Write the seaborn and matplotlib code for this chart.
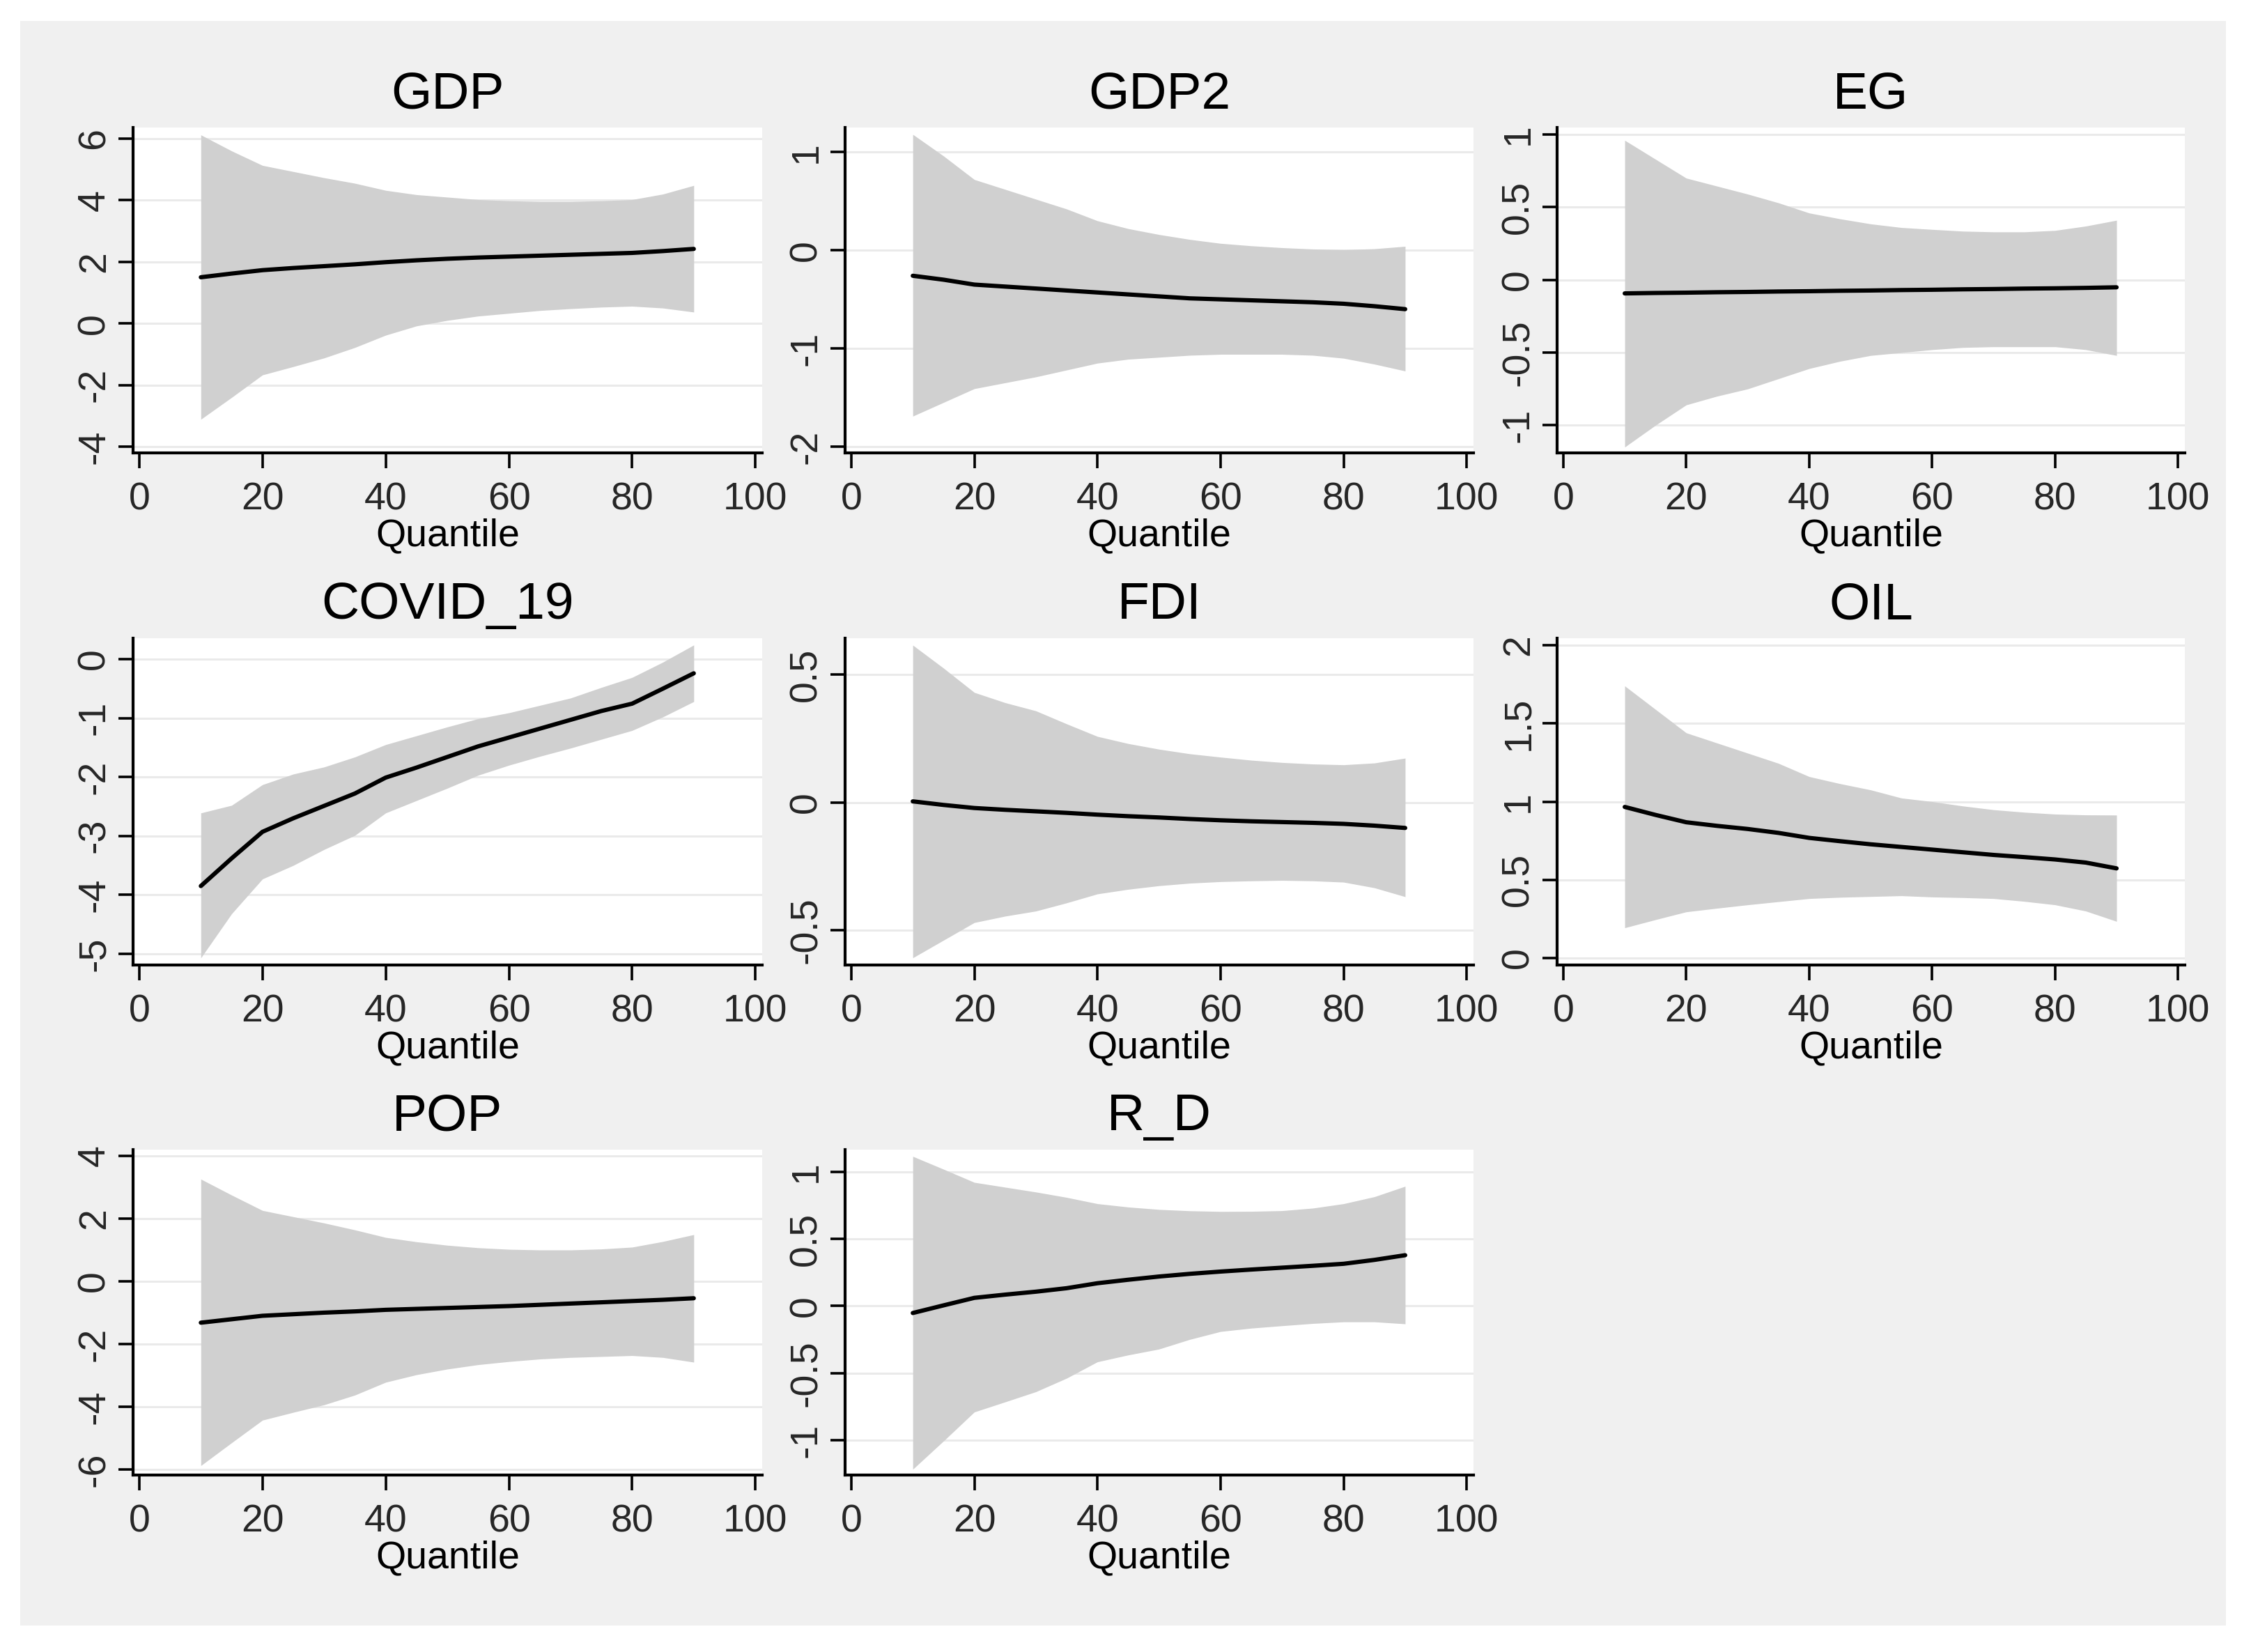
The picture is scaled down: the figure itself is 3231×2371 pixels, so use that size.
import matplotlib
matplotlib.use("Agg")
import matplotlib.pyplot as plt
import seaborn as sns
import pandas as pd
from matplotlib.ticker import FuncFormatter, FixedLocator

# quantile grid of the estimates
quantiles = [10, 15, 20, 25, 30, 35, 40, 45, 50, 55, 60, 65, 70, 75, 80, 85, 90]

gdp_coef = [1.50, 1.62, 1.73, 1.80, 1.86, 1.92, 1.99, 2.05, 2.10, 2.14, 2.17, 2.20, 2.23, 2.26, 2.29, 2.35, 2.42]
gdp_hi = [6.12, 5.60, 5.13, 4.93, 4.73, 4.55, 4.32, 4.18, 4.10, 4.02, 3.98, 3.96, 3.96, 3.98, 4.02, 4.20, 4.48]
gdp_lo = [-3.11, -2.40, -1.67, -1.40, -1.12, -0.78, -0.38, -0.08, 0.10, 0.24, 0.33, 0.42, 0.48, 0.53, 0.56, 0.50, 0.37]

gdp2_coef = [-0.26, -0.30, -0.35, -0.37, -0.39, -0.41, -0.43, -0.45, -0.47, -0.49, -0.50, -0.51, -0.52, -0.53, -0.545, -0.57, -0.60]
gdp2_hi = [1.18, 0.96, 0.72, 0.62, 0.52, 0.42, 0.30, 0.22, 0.16, 0.11, 0.07, 0.045, 0.026, 0.012, 0.005, 0.015, 0.04]
gdp2_lo = [-1.69, -1.55, -1.41, -1.35, -1.29, -1.22, -1.15, -1.11, -1.09, -1.07, -1.06, -1.06, -1.06, -1.07, -1.10, -1.16, -1.23]

eg_coef = [-0.093, -0.090, -0.088, -0.085, -0.083, -0.080, -0.078, -0.075, -0.073, -0.070, -0.068, -0.065, -0.063, -0.060, -0.058, -0.055, -0.051]
eg_hi = [0.96, 0.83, 0.70, 0.645, 0.59, 0.53, 0.46, 0.42, 0.385, 0.36, 0.347, 0.335, 0.33, 0.33, 0.34, 0.37, 0.41]
eg_lo = [-1.15, -1.00, -0.86, -0.80, -0.75, -0.68, -0.61, -0.56, -0.52, -0.50, -0.48, -0.465, -0.46, -0.46, -0.46, -0.48, -0.52]

covid_coef = [-3.85, -3.38, -2.93, -2.70, -2.49, -2.28, -2.01, -1.84, -1.66, -1.48, -1.33, -1.18, -1.03, -0.88, -0.755, -0.50, -0.24]
covid_hi = [-2.61, -2.48, -2.13, -1.95, -1.83, -1.66, -1.45, -1.30, -1.15, -1.01, -0.91, -0.785, -0.66, -0.48, -0.31, -0.05, 0.24]
covid_lo = [-5.07, -4.32, -3.73, -3.50, -3.23, -2.99, -2.61, -2.40, -2.19, -1.97, -1.80, -1.65, -1.51, -1.36, -1.21, -0.98, -0.72]

fdi_coef = [0.004, -0.010, -0.022, -0.029, -0.035, -0.041, -0.048, -0.054, -0.059, -0.065, -0.070, -0.074, -0.077, -0.080, -0.084, -0.091, -0.100]
fdi_hi = [0.615, 0.525, 0.43, 0.39, 0.358, 0.307, 0.258, 0.23, 0.208, 0.19, 0.177, 0.165, 0.156, 0.15, 0.147, 0.154, 0.173]
fdi_lo = [-0.608, -0.539, -0.47, -0.445, -0.425, -0.393, -0.358, -0.34, -0.326, -0.316, -0.31, -0.307, -0.305, -0.307, -0.312, -0.334, -0.369]

oil_coef = [0.966, 0.915, 0.868, 0.845, 0.825, 0.80, 0.768, 0.747, 0.727, 0.71, 0.693, 0.676, 0.659, 0.645, 0.63, 0.61, 0.573]
oil_hi = [1.74, 1.59, 1.44, 1.375, 1.31, 1.245, 1.16, 1.115, 1.075, 1.023, 1.0, 0.972, 0.948, 0.932, 0.92, 0.915, 0.914]
oil_lo = [0.193, 0.245, 0.295, 0.318, 0.34, 0.36, 0.38, 0.388, 0.393, 0.398, 0.39, 0.386, 0.38, 0.362, 0.34, 0.30, 0.234]

pop_coef = [-1.32, -1.21, -1.10, -1.05, -1.00, -0.96, -0.91, -0.88, -0.85, -0.82, -0.79, -0.75, -0.71, -0.67, -0.63, -0.59, -0.54]
pop_hi = [3.26, 2.75, 2.26, 2.06, 1.86, 1.64, 1.40, 1.26, 1.15, 1.07, 1.02, 1.00, 1.00, 1.03, 1.09, 1.27, 1.49]
pop_lo = [-5.88, -5.15, -4.43, -4.18, -3.94, -3.63, -3.22, -2.98, -2.80, -2.66, -2.56, -2.48, -2.43, -2.40, -2.37, -2.43, -2.58]

rd_coef = [-0.052, 0.005, 0.061, 0.085, 0.107, 0.133, 0.17, 0.196, 0.22, 0.24, 0.257, 0.272, 0.286, 0.30, 0.315, 0.344, 0.379]
rd_hi = [1.116, 1.02, 0.922, 0.886, 0.85, 0.81, 0.763, 0.738, 0.72, 0.71, 0.705, 0.706, 0.711, 0.73, 0.763, 0.815, 0.893]
rd_lo = [-1.217, -1.006, -0.79, -0.715, -0.639, -0.538, -0.416, -0.365, -0.321, -0.249, -0.19, -0.165, -0.147, -0.13, -0.118, -0.118, -0.133]

x_ticks = [0, 20, 40, 60, 80, 100]

panels = [
    ("GDP", gdp_coef, gdp_lo, gdp_hi, [-4, -2, 0, 2, 4, 6]),
    ("GDP2", gdp2_coef, gdp2_lo, gdp2_hi, [-2, -1, 0, 1]),
    ("EG", eg_coef, eg_lo, eg_hi, [-1, -0.5, 0, 0.5, 1]),
    ("COVID_19", covid_coef, covid_lo, covid_hi, [-5, -4, -3, -2, -1, 0]),
    ("FDI", fdi_coef, fdi_lo, fdi_hi, [-0.5, 0, 0.5]),
    ("OIL", oil_coef, oil_lo, oil_hi, [0, 0.5, 1, 1.5, 2]),
    ("POP", pop_coef, pop_lo, pop_hi, [-6, -4, -2, 0, 2, 4]),
    ("R_D", rd_coef, rd_lo, rd_hi, [-1, -0.5, 0, 0.5, 1]),
]

# layout (pixels of the 3231x2371 canvas)
W, H = 3231, 2371
col_px = [(191, 1094), (1213, 2115), (2235, 3136)]
row_px = [(183, 650), (916, 1385), (1650, 2117)]
ylims = {
    "GDP": (-4.2, 6.36), "GDP2": (-2.064, 1.25), "EG": (-1.19, 1.048),
    "COVID_19": (-5.19, 0.355), "FDI": (-0.636, 0.642), "OIL": (-0.045, 2.045),
    "POP": (-6.18, 4.2), "R_D": (-1.26, 1.166),
}

sns.set_theme(style="white")
plt.rcParams['font.family'] = ['Liberation Sans', 'DejaVu Sans']
plt.rcParams['axes.unicode_minus'] = False

fig = plt.figure(figsize=(W / 200, H / 200), dpi=200, facecolor="white")

# grey graph region behind all panels
bg = fig.add_axes([29 / W, 1 - 2333 / H, (3195 - 29) / W, (2333 - 30) / H], zorder=-5)
bg.set_facecolor("#F0F0F0")
bg.set_xticks([])
bg.set_yticks([])
for s in bg.spines.values():
    s.set_visible(False)

fmt = FuncFormatter(lambda v, _: f"{v:g}")

for i, (name, coef, lo, hi, yt) in enumerate(panels):
    r, c = divmod(i, 3)
    l, rr = col_px[c]
    t, b = row_px[r]
    ax = fig.add_axes([l / W, 1 - b / H, (rr - l) / W, (b - t) / H])
    ax.set_facecolor("white")

    df = pd.DataFrame({"q": quantiles, "coef": coef, "lo": lo, "hi": hi})
    ax.fill_between(df["q"], df["lo"], df["hi"], color="#D0D0D0", lw=0, zorder=2)
    sns.lineplot(data=df, x="q", y="coef", ax=ax, color="black", lw=2.2,
                 errorbar=None, zorder=3)

    ax.set_xlim(-1, 101.1)
    ax.set_ylim(*ylims[name])
    ax.xaxis.set_major_locator(FixedLocator(x_ticks))
    ax.yaxis.set_major_locator(FixedLocator(yt))
    ax.yaxis.set_major_formatter(fmt)
    ax.xaxis.set_major_formatter(fmt)

    ax.set_axisbelow(True)
    ax.yaxis.grid(True, color="#EAEAEA", lw=1.1)
    ax.xaxis.grid(False)
    for s in ["top", "right"]:
        ax.spines[s].set_visible(False)
    for s in ["left", "bottom"]:
        ax.spines[s].set_color("black")
        ax.spines[s].set_linewidth(1.5)

    ax.tick_params(axis="x", length=8, width=1.3, color="black", pad=7,
                   labelsize=20, bottom=True)
    ax.tick_params(axis="y", length=7.5, width=1.3, color="black", pad=3,
                   labelsize=20, left=True)
    for lab in ax.get_yticklabels():
        lab.set_rotation(90)
        lab.set_va("center")

    ax.set_title(name, fontsize=27, pad=10, color="black")
    ax.set_xlabel("Quantile", fontsize=20, labelpad=0, color="black")
    ax.set_ylabel("")

fig.savefig("out.png", dpi=200)
